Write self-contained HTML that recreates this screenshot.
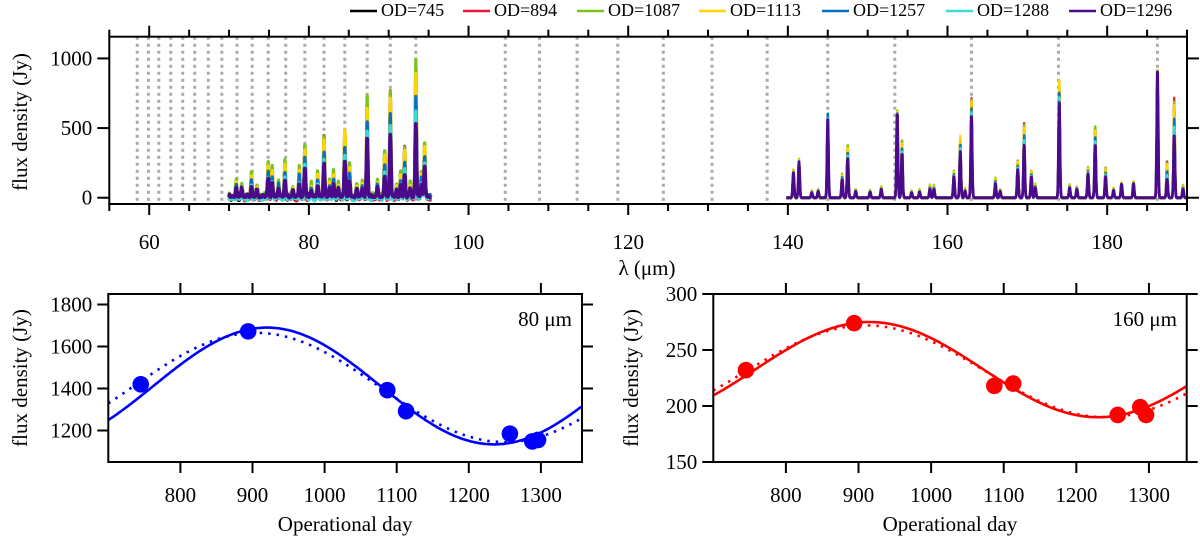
<!DOCTYPE html>
<html><head><meta charset="utf-8"><style>
html,body{margin:0;padding:0;background:#fff}
svg{display:block;font-family:"Liberation Serif",serif}
</style></head><body>
<svg id="fig" width="1200" height="536" viewBox="0 0 1200 536"></svg>
<script>
// ---------- data ----------
const odLabels = ["OD=745","OD=894","OD=1087","OD=1113","OD=1257","OD=1288","OD=1296"];
const odColors = ["#000000","#e8193c","#7ac41e","#ffd400","#0a6fc0","#3ddbd0","#4b0a8c"];
const odDays = [745, 894, 1087, 1113, 1257, 1288, 1296];
const seriesFactor = [0.55, 0.9, 0.88, 0.8, 0.45, 0.25, 0];
const seriesOffset = [-14, -8, 12, 6, -3, -6, 4];
const peakLambda = [70.9,72.8,74.9,75.4,77.0,78.8,79.5,81.1,81.9,83.1,84.5,85.1,87.3,89.5,90.2,91.5,92.0,93.4,94.1,94.5,
  71.6,73.5,76.2,78.0,80.3,82.6,83.7,86.0,86.7,88.6,91.0,92.7,
  140.7,141.4,143.0,143.8,145.0,146.8,147.5,148.5,150.3,151.7,153.7,154.3,155.5,156.5,157.8,158.3,160.8,161.6,162.2,163.0,166.0,166.6,168.8,169.6,170.5,171.0,174.0,175.3,176.2,177.6,178.5,179.8,180.8,181.8,183.3,186.3,187.5,188.4,189.5];
const peakMax = [127,175,250,215,263,227,390,187,468,187,493,246,725,350,785,187,378,976,190,402,
  90,80,110,70,95,120,100,85,110,120,90,100,
  203,275,50,60,605,170,383,60,55,80,640,419,50,60,95,95,196,442,70,718,146,60,270,538,200,100,845,98,80,222,522,218,70,108,120,940,270,720,95];
const peakBase = [60,80,127,100,120,90,210,80,230,90,263,100,430,150,443,80,160,521,90,230,
  50,45,60,40,50,60,55,50,60,60,50,55,
  180,255,35,45,560,130,287,45,40,60,610,318,35,40,60,60,150,330,45,581,100,45,200,375,150,70,682,70,60,170,383,150,50,95,100,925,134,443,60];
const peakLeader = [1,2,2,2,2,1,1,1,1,1,3,1,2,1,1,1,1,2,1,1,
  2,1,2,1,1,2,1,2,1,2,1,1,
  2,2,2,2,4,2,2,2,2,2,2,2,2,2,1,1,1,3,1,1,1,1,1,1,1,1,3,1,1,1,2,1,1,1,1,1,1,1,1];
// baseline ripple amplitudes every 0.25 um from 70.0 to 95.25 (short-wavelength band)
const rippleAmp = [30,12,45,20,35,8,50,25,15,40,22,55,18,30,10,42,28,14,48,20,
  33,12,38,25,52,16,30,44,20,10,36,24,46,14,28,40,18,54,22,12,
  34,26,48,16,38,20,30,50,14,24,42,18,36,28,10,46,22,32,54,16,
  26,40,12,44,30,20,50,18,34,24,38,14,48,28,22,42,16,36,52,20,
  30,12,44,26,38,18,50,24,14,40,32,20,46,28,16,36,24,42,18,30,34,22];
const specRanges = [[70.0,95.3],[139.8,190.0]];
const gridLambda = [58.5,59.9,61.2,62.7,64.2,65.7,67.4,69.1,71.0,72.9,74.9,77.1,79.5,81.9,84.5,87.3,90.2,93.4,104.6,108.9,113.6,118.7,124.4,130.5,137.4,145.0,153.4,163.0,173.9,186.3];
const topXTicks = [60,80,100,120,140,160,180];
const topYTicks = [0,500,1000];

const p80Days = [745, 894, 1087, 1113, 1257, 1288, 1296];
const p80Flux = [1420, 1672, 1392, 1292, 1185, 1148, 1155];
const p80Solid = [1412, 278, 630, 920];   // mean, amplitude, period, peak day
const p80Dotted = [1405, 260, 690, 905];
const p80YTicks = [1200,1400,1600,1800];
const p160Days = [745, 894, 1087, 1113, 1257, 1288, 1296];
const p160Flux = [232, 274, 218, 220, 192, 199, 192];
const p160Solid = [232.5, 42.5, 630, 915];
const p160Dotted = [231, 41, 660, 910];
const p160YTicks = [150,200,250,300];
const dayTicks = [800,900,1000,1100,1200,1300];

// ---------- helpers ----------
const NS="http://www.w3.org/2000/svg";
const svg=document.getElementById('fig');
function el(tag,attrs,parent){const e=document.createElementNS(NS,tag);for(const k in attrs)e.setAttribute(k,attrs[k]);(parent||svg).appendChild(e);return e;}
function txt(s,x,y,size,anchor,parent){const t=el('text',{x:x,y:y,'font-size':size,'text-anchor':anchor||'middle','dominant-baseline':'central',fill:'#000'},parent);t.textContent=s;return t;}

// ---------- top panel ----------
const T={l:109.3,r:1187,t:36.7,b:204,x0:55,x1:190,y0:-45,y1:1156};
const tx=v=>T.l+(v-T.x0)/(T.x1-T.x0)*(T.r-T.l);
const ty=v=>T.b-(v-T.y0)/(T.y1-T.y0)*(T.b-T.t);
const topG=el('g',{});


gridLambda.forEach(l=>{const g=el('line',{x1:tx(l),x2:tx(l),y1:T.t,y2:T.b,stroke:'#aaaaaa','stroke-width':3,'stroke-dasharray':'3 4'},topG);

});
function ripple(s,l){if(l<70||l>95.5)return 0;const idx=(l-70)/0.25;const i=Math.floor(idx);const n=rippleAmp.length;
  const k=(i+s*3)%n;const a=rippleAmp[k],b=rippleAmp[(k+1)%n];const f=idx-i;const base=a+(b-a)*f;
  return (base-20)*(s%2?-0.6:1)*Math.abs(Math.sin(idx*Math.PI*2));}
function specVal(s,l){let v=seriesOffset[s]*(l<100?1:0.3)+ripple(s,l);for(let i=0;i<peakLambda.length;i++){const d=l-peakLambda[i];if(Math.abs(d)>0.6)continue;const f=(peakLeader[i]===s)?1:seriesFactor[s];const h=peakBase[i]+(peakMax[i]-peakBase[i])*f;v+=h*Math.exp(-d*d/(2*0.085*0.085));}return v;}
for(let s=0;s<odLabels.length;s++){
  specRanges.forEach((r,ri)=>{let d='';for(let l=r[0];l<=r[1]+1e-9;l+=0.04){d+=(d?'L':'M')+tx(l).toFixed(1)+','+ty(Math.max(-40,specVal(s,l))).toFixed(1);}
  const p=el('path',{d:d,fill:'none',stroke:odColors[s],'stroke-width':(s===6?2.8:2.3)+(ri===0?0.8:0),'stroke-linejoin':'round'},topG);
  
  });
}
el('rect',{x:T.l,y:T.t,width:T.r-T.l,height:T.b-T.t,fill:'none',stroke:'#000','stroke-width':2},topG);
for(let v=55;v<=190;v+=5){const major=topXTicks.includes(v);const L=major?11:7;
  el('line',{x1:tx(v),x2:tx(v),y1:T.b,y2:T.b+L,stroke:'#000','stroke-width':2},topG);
  el('line',{x1:tx(v),x2:tx(v),y1:T.t,y2:T.t-L,stroke:'#000','stroke-width':2},topG);}
topXTicks.forEach(v=>{const t=txt(String(v),tx(v),242,21,'middle',topG);});
topYTicks.forEach(v=>{el('line',{x1:T.l-12,x2:T.l,y1:ty(v),y2:ty(v),stroke:'#000','stroke-width':2},topG);
  el('line',{x1:T.r,x2:T.r+12,y1:ty(v),y2:ty(v),stroke:'#000','stroke-width':2},topG);
  const t=txt(String(v),T.l-17,ty(v),21,'end',topG);});
const xl=txt('λ (μm)',647,268,21,'middle',topG);

const yl=txt('flux density (Jy)',0,0,21,'middle',topG);yl.setAttribute('transform','translate(20,122) rotate(-90)');


// legend
const legX=[350,463,577,699,822,946,1069];
const leg=el('g',{});
odLabels.forEach((lab,i)=>{const g=el('g',{},leg);
  
  
  el('line',{x1:legX[i],x2:legX[i]+27,y1:11,y2:11,stroke:odColors[i],'stroke-width':2.5},g);
  txt(lab,legX[i]+31,10,18,'start',g);});

// ---------- bottom panels ----------
function panel(name,P,days,flux,solid,dotted,yTicks,color,label,labelX,ylabX){
  const g=el('g',{});
  const px=v=>P.l+(v-P.x0)/(P.x1-P.x0)*(P.r-P.l);
  const py=v=>P.b-(v-P.y0)/(P.y1-P.y0)*(P.b-P.t);
  const defs=el('clipPath',{id:name+'-clip'},g);el('rect',{x:P.l,y:P.t,width:P.r-P.l,height:P.b-P.t},defs);
  const curve=(c)=>{let d='';for(let x=P.x0;x<=P.x1;x+=2){const y=c[0]+c[1]*Math.cos(2*Math.PI*(x-c[3])/c[2]);d+=(d?'L':'M')+px(x).toFixed(1)+','+py(y).toFixed(1);}return d;};
  const dl=el('path',{d:curve(dotted),fill:'none',stroke:color,'stroke-width':2.6,'stroke-dasharray':'2.5 6','clip-path':'url(#'+name+'-clip)'},g);
  
  const sl=el('path',{d:curve(solid),fill:'none',stroke:color,'stroke-width':2.6,'clip-path':'url(#'+name+'-clip)'},g);
  
  days.forEach((d,i)=>{const c=el('circle',{cx:px(d),cy:py(flux[i]),r:8.3,fill:color},g);
    
    });
  el('rect',{x:P.l,y:P.t,width:P.r-P.l,height:P.b-P.t,fill:'none',stroke:'#000','stroke-width':2},g);
  dayTicks.forEach(v=>{el('line',{x1:px(v),x2:px(v),y1:P.b,y2:P.b+11,stroke:'#000','stroke-width':2},g);
    el('line',{x1:px(v),x2:px(v),y1:P.t,y2:P.t-11,stroke:'#000','stroke-width':2},g);
    const t=txt(String(v),px(v),495,21,'middle',g);});
  yTicks.forEach(v=>{el('line',{x1:P.l-11,x2:P.l,y1:py(v),y2:py(v),stroke:'#000','stroke-width':2},g);
    el('line',{x1:P.r,x2:P.r+11,y1:py(v),y2:py(v),stroke:'#000','stroke-width':2},g);
    const t=txt(String(v),P.l-16,py(v),21,'end',g);});
  const xt=txt('Operational day',(P.l+P.r)/2,524,21,'middle',g);
  const yt=txt('flux density (Jy)',0,0,21,'middle',g);yt.setAttribute('transform','translate('+ylabX+','+((P.t+P.b)/2)+') rotate(-90)');
  
  const lt=txt(label,labelX,319,21,'end',g);
}
panel('panel-80um',{l:108.3,r:582,t:294,b:462,x0:700,x1:1357,y0:1050,y1:1850},p80Days,p80Flux,p80Solid,p80Dotted,p80YTicks,'#0000ff','80 μm',572,20);
panel('panel-160um',{l:713.3,r:1186.7,t:294,b:462,x0:700,x1:1352,y0:150,y1:300},p160Days,p160Flux,p160Solid,p160Dotted,p160YTicks,'#ff0000','160 μm',1177,631);
</script>
</body></html>
